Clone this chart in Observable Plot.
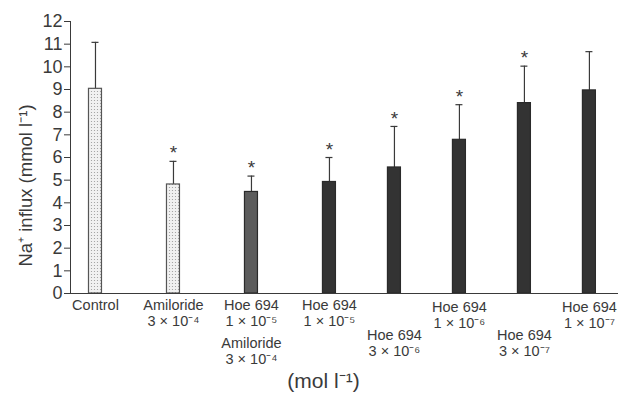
<!DOCTYPE html>
<html><head><meta charset="utf-8">
<script src="https://cdn.jsdelivr.net/npm/d3@7"></script>
<script src="https://cdn.jsdelivr.net/npm/@observablehq/plot@0.6"></script>
<style>
body{margin:0;background:#fff}
svg{font-family:"Liberation Sans",Arial,Helvetica,sans-serif}
</style>
</head><body><div id="chart"></div>
<script>
// ---- data ----
const ids = ["c", "a", "ha", "h1", "h2", "h3", "h4", "h5"];
const drugs = ["Control", "Amiloride", "Hoe 694", "Hoe 694", "Hoe 694", "Hoe 694", "Hoe 694", "Hoe 694"];
const doses = ["", "3 × 10⁻⁴", "1 × 10⁻⁵", "1 × 10⁻⁵", "3 × 10⁻⁶", "1 × 10⁻⁶", "3 × 10⁻⁷", "1 × 10⁻⁷"];
const coTreatment = ["", "", "Amiloride\n3 × 10⁻⁴", "", "", "", "", ""];
const means = [9.03, 4.81, 4.48, 4.92, 5.56, 6.78, 8.40, 8.96];
const sem = [2.05, 1.02, 0.70, 1.08, 1.81, 1.55, 1.63, 1.71];
const significant = [false, true, true, true, true, true, true, false];
const yTicks = [0, 1, 2, 3, 4, 5, 6, 7, 8, 9, 10, 11, 12];

// ---- layout (not data): bar slots on a fine band grid, label staggering ----
const barSlot = [0, 6, 12, 18, 23, 28, 33, 38];
const rowOffset = [0, 0, 0, 0, 30, 2, 30, 2];

const rows = ids.map((id, i) => ({
  id, i,
  slot: barSlot[i],
  label: doses[i] ? drugs[i] + "\n" + doses[i] : drugs[i],
  co: coTreatment[i],
  mean: means[i],
  top: means[i] + sem[i],
  sig: significant[i],
  kind: (drugs[i] === "Hoe 694" ? (coTreatment[i] ? "mid" : "dark") : "light")
}));

const fillFor = d => d.kind === "light" ? "url(#stip)" : d.kind === "mid" ? "#5c5c5c" : "#333";
const ink = "#3a3a3a";

const labelMarks = rows.flatMap(d => {
  const m = [Plot.text([d], {x: "slot", y: 0, text: "label", lineAnchor: "top", lineHeight: 1.1,
    dy: 5 + rowOffset[d.i], fontSize: 14.5, fill: ink})];
  if (d.co) m.push(Plot.text([d], {x: "slot", y: 0, text: "co", lineAnchor: "top", lineHeight: 1.1,
    dy: 43, fontSize: 14.5, fill: ink}));
  return m;
});

const plot = Plot.plot({
  width: 623,
  height: 396,
  marginTop: 21,
  marginBottom: 103,
  marginLeft: 70,
  marginRight: 5,
  style: {fontFamily: '"Liberation Sans", Arial, sans-serif', color: ink, background: "#fff"},
  x: {type: "band", domain: d3.range(0, 39), paddingInner: 0, paddingOuter: 1.58, align: 0.45, axis: null},
  y: {domain: [0, 12]},
  marks: [
    Plot.axisY({ticks: yTicks, tickSize: 6, tickPadding: 2, fontSize: 18, label: null, stroke: ink, color: ink}),
    Plot.frame({anchor: "left", stroke: ink}),
    Plot.ruleX(rows, {x: "slot", y1: "mean", y2: "top", stroke: ink, strokeWidth: 1.2}),
    Plot.tickY(rows, {x: "slot", y: "top", stroke: ink, strokeWidth: 1.2, insetLeft: 3, insetRight: 3}),
    Plot.barY(rows, {x: "slot", y: "mean", fill: fillFor, stroke: d => d.kind === "light" ? "#555" : "#2a2a2a", strokeWidth: 1.2}),
    Plot.ruleY([0], {stroke: ink, strokeWidth: 1.2}),
    Plot.text(rows.filter(d => d.sig), {x: "slot", y: "top", text: () => "*", dy: -8, fontSize: 19, fill: ink}),
    ...labelMarks,
    Plot.text(["Na⁺ influx (mmol l⁻¹)"], {frameAnchor: "left", textAnchor: "middle", rotate: -90, dx: -44, dy: 28, fontSize: 18.5, fill: ink}),
    Plot.text(["(mol l⁻¹)"], {frameAnchor: "bottom", dx: -21, dy: 94, fontSize: 21, fill: ink})
  ]
});

const svg = d3.select(plot);
// enforce tick label size
svg.selectAll('g[aria-label="y-axis tick label"]').attr("font-size", 18);
// stipple pattern for the light bars
const defs = svg.insert("defs", ":first-child");
const pat = defs.append("pattern").attr("id", "stip").attr("width", 3).attr("height", 3).attr("patternUnits", "userSpaceOnUse");
pat.append("rect").attr("width", 3).attr("height", 3).attr("fill", "#f1f1f1");
pat.append("circle").attr("cx", 1.5).attr("cy", 1.5).attr("r", 0.6).attr("fill", "#9a9a9a");

document.getElementById("chart").appendChild(plot);
</script>
</body></html>
